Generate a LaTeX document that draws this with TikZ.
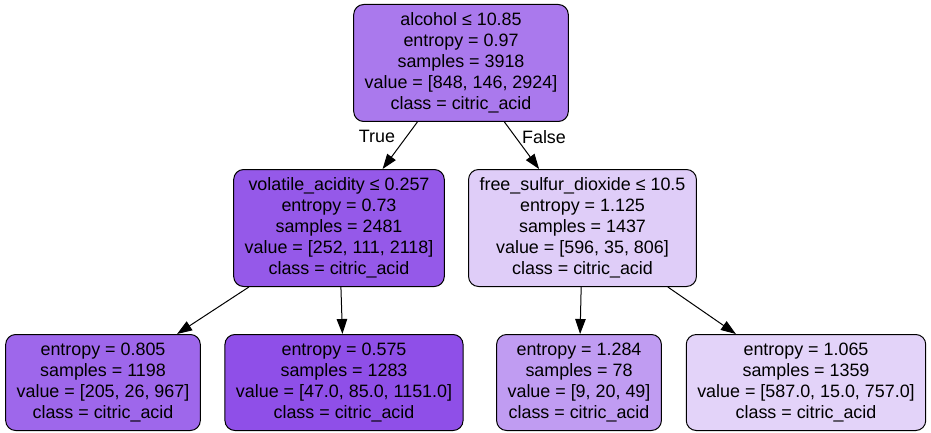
\documentclass[tikz,border=0pt]{standalone}
\usepackage{fontspec}
\setmainfont{Liberation Sans}
\usetikzlibrary{bayesnet}
\usetikzlibrary{positioning}
\usetikzlibrary{arrows.meta}

\definecolor{c_root}{HTML}{AA79ED}
\definecolor{c_l}{HTML}{9559E9}
\definecolor{c_r}{HTML}{DFCDF8}
\definecolor{c_ll}{HTML}{9E67EB}
\definecolor{c_lr}{HTML}{8F4FE8}
\definecolor{c_rl}{HTML}{C09CF2}
\definecolor{c_rr}{HTML}{E3D3F9}

\tikzset{
  treenode/.style={draw=black, line width=1pt, rounded corners=10pt, align=center,
    inner xsep=11pt, inner ysep=0pt, font=\fontsize{17.9}{21}\selectfont},
  split/.style={treenode, minimum height=117pt},
  leaf/.style={treenode, minimum height=96pt},
  edgelbl/.style={inner sep=0pt, font=\fontsize{17.9}{21}\selectfont},
  treearrow/.style={line width=1pt, >={Triangle[length=15pt,width=10.5pt]}}
}

\begin{document}
\begin{tikzpicture}
        \useasboundingbox (0pt,0pt) rectangle (931pt,-433pt);
        % Define nodes
        % splits
        \node[split, fill=c_root] at (461pt,-63pt) (n_root){alcohol ≤ 10.85\\entropy = 0.97\\samples = 3918\\value = [848, 146, 2924]\\class = citric\_acid}; %
        \node[split, fill=c_l, below=47pt of n_root, xshift=-122pt](n_l){volatile\_acidity ≤ 0.257\\entropy = 0.73\\samples = 2481\\value = [252, 111, 2118]\\class = citric\_acid}; %
        \node[split, fill=c_r, below=47pt of n_root, xshift=121.5pt](n_r){free\_sulfur\_dioxide ≤ 10.5\\entropy = 1.125\\samples = 1437\\value = [596, 35, 806]\\class = citric\_acid}; %
        % leaves
        \node[leaf, fill=c_ll, below=47pt of n_l, xshift=-236pt](n_ll){entropy = 0.805\\samples = 1198\\value = [205, 26, 967]\\class = citric\_acid}; %
        \node[leaf, fill=c_lr, below=47pt of n_l, xshift=5pt](n_lr){entropy = 0.575\\samples = 1283\\value = [47.0, 85.0, 1151.0]\\class = citric\_acid}; %
        \node[leaf, fill=c_rl, below=47pt of n_r, xshift=-3.5pt](n_rl){entropy = 1.284\\samples = 78\\value = [9, 20, 49]\\class = citric\_acid}; %
        \node[leaf, fill=c_rr, below=47pt of n_r, xshift=223.5pt](n_rr){entropy = 1.065\\samples = 1359\\value = [587.0, 15.0, 757.0]\\class = citric\_acid}; %
        % branch labels
        \node[edgelbl, below=8pt of n_root.south, xshift=-84pt](lbl_true){True}; %
        \node[edgelbl, below=8pt of n_root.south, xshift=83pt](lbl_false){False}; %

        \edge[treearrow]{n_root}{n_l,n_r};
        \edge[treearrow]{n_l}{n_ll,n_lr};
        \edge[treearrow]{n_r}{n_rl,n_rr};
    \end{tikzpicture}
\end{document}
